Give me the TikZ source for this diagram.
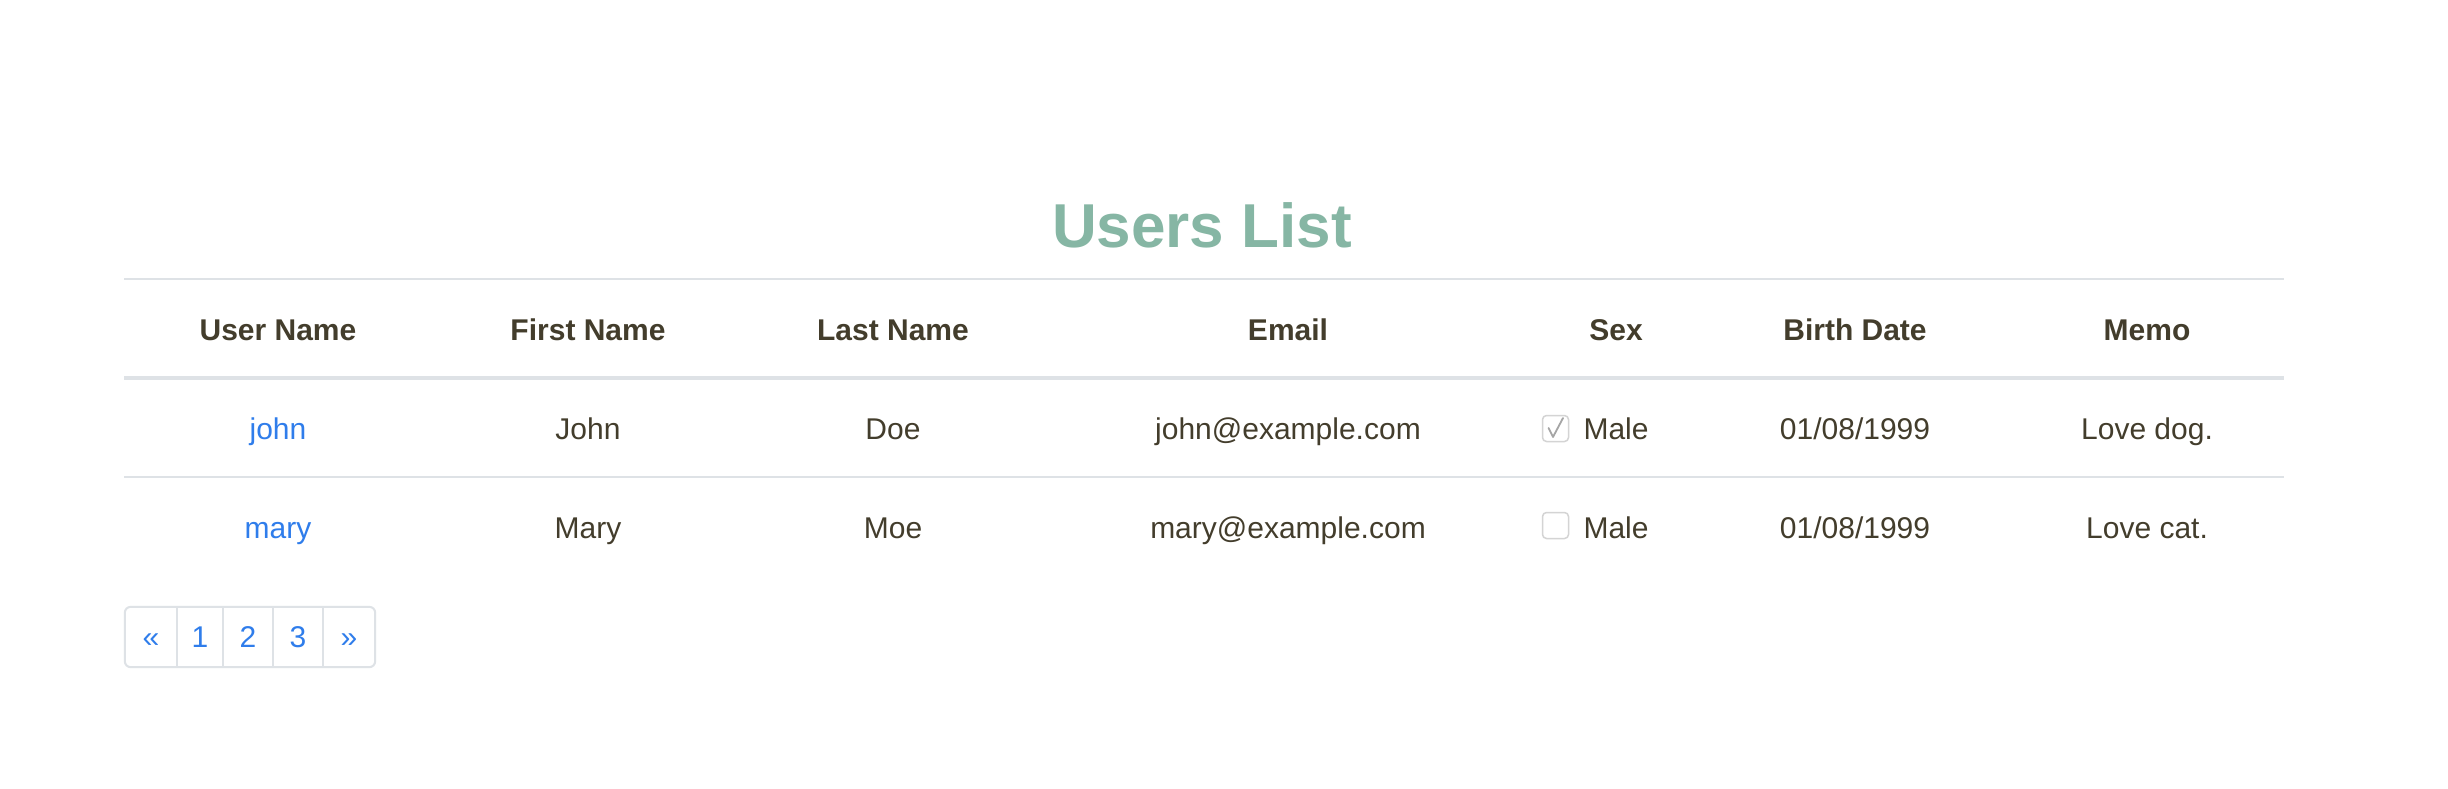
\documentclass[tikz,border=0pt]{standalone}
\usepackage{fontspec}
\setmainfont{Liberation Sans}
\definecolor{titlegreen}{RGB}{134,182,164}
\definecolor{textdark}{RGB}{67,61,44}
\definecolor{linkblue}{RGB}{47,125,235}
\definecolor{rulegray}{RGB}{222,226,230}
\definecolor{boxgray}{RGB}{212,212,212}
\definecolor{checkgray}{RGB}{165,165,165}
\begin{document}
\begin{tikzpicture}[x=1pt,y=-1pt,
  txt/.style={anchor=base, inner sep=0pt, text=textdark, font=\fontsize{30}{36}\selectfont},
  hdr/.style={txt, font=\fontsize{30}{36}\selectfont\bfseries},
  lnk/.style={txt, text=linkblue},
  tablerule/.style={draw=rulegray, line width=2pt},
  headrule/.style={draw=rulegray, line width=4pt},
  cbox/.style={draw=boxgray, line width=1.5pt, rounded corners=4pt, minimum size=26pt, inner sep=0pt},
  pagecell/.style={inner sep=0pt, minimum height=60pt, text height=21pt, text depth=0pt, text=linkblue, font=\fontsize{30}{36}\selectfont},
]
\useasboundingbox[fill=white] (0,0) rectangle (2448,788);

% title
\node[anchor=base, inner sep=0pt, text=titlegreen, font=\fontsize{62}{70}\selectfont\bfseries] (title) at (1202,247) {Users List};

% rules
\coordinate (r0l) at (124,279); \coordinate (r0r) at (2284,279);
\coordinate (r1l) at (124,378); \coordinate (r1r) at (2284,378);
\coordinate (r2l) at (124,477); \coordinate (r2r) at (2284,477);
\draw[tablerule] (r0l) -- (r0r);
\draw[headrule] (r1l) -- (r1r);
\draw[tablerule] (r2l) -- (r2r);

% header
\node[hdr] (hUser)  at (278,340)  {User Name};
\node[hdr] (hFirst) at (588,340)  {First Name};
\node[hdr] (hLast)  at (893,340)  {Last Name};
\node[hdr] (hEmail) at (1288,340) {Email};
\node[hdr] (hSex)   at (1616,340) {Sex};
\node[hdr] (hBirth) at (1855,340) {Birth Date};
\node[hdr] (hMemo)  at (2147,340) {Memo};

% row 1
\node[lnk] (aUser)  at (278,439)  {john};
\node[txt] (aFirst) at (588,439)  {John};
\node[txt] (aLast)  at (893,439)  {Doe};
\node[txt] (aEmail) at (1288,439) {john@example.com};
\node[cbox] (cb1)   at (1555.5,428.5) {};
\draw[checkgray, line width=1.8pt, line join=round, line cap=round]
  (cb1.center) ++(-7,-0.5) -- ++(4.5,9) -- ++(10,-19);
\node[txt] (aSex)   at (1616,439) {Male};
\node[txt] (aBirth) at (1855,439) {01/08/1999};
\node[txt] (aMemo)  at (2147,439) {Love dog.};

% row 2
\node[lnk] (bUser)  at (278,538)  {mary};
\node[txt] (bFirst) at (588,538)  {Mary};
\node[txt] (bLast)  at (893,538)  {Moe};
\node[txt] (bEmail) at (1288,538) {mary@example.com};
\node[cbox] (cb2)   at (1555.5,525.5) {};
\node[txt] (bSex)   at (1616,538) {Male};
\node[txt] (bBirth) at (1855,538) {01/08/1999};
\node[txt] (bMemo)  at (2147,538) {Love cat.};

% pagination
\node[pagecell, minimum width=52pt] (pPrev) at (151,637) {«};
\node[pagecell, minimum width=46pt] (p1)    at (200,637) {1};
\node[pagecell, minimum width=50pt] (p2)    at (248,637) {2};
\node[pagecell, minimum width=50pt] (p3)    at (298,637) {3};
\node[pagecell, minimum width=52pt] (pNext) at (349,637) {»};
\draw[rulegray, line width=2pt, rounded corners=6pt] (pPrev.north west) rectangle (pNext.south east);
\draw[rulegray, line width=2pt] (p1.north west) -- (p1.south west);
\draw[rulegray, line width=2pt] (p2.north west) -- (p2.south west);
\draw[rulegray, line width=2pt] (p3.north west) -- (p3.south west);
\draw[rulegray, line width=2pt] (pNext.north west) -- (pNext.south west);
\end{tikzpicture}
\end{document}
